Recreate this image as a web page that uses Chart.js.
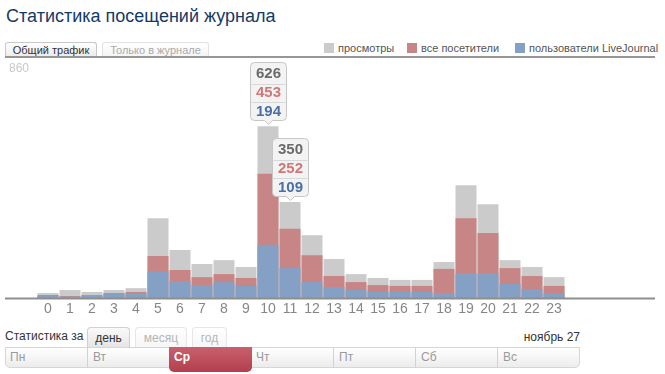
<!DOCTYPE html>
<html>
<head>
<meta charset="utf-8">
<script src="https://cdn.jsdelivr.net/npm/chart.js@4"></script>
<style>
  html, body { margin: 0; padding: 0; background: #fff; }
  body { width: 665px; height: 374px; position: relative; overflow: hidden; font-family: Arial, "Liberation Sans", sans-serif; }
  .abs { position: absolute; white-space: nowrap; }
  #title { left: 6px; top: 6px; font-size: 18px; line-height: 20px; color: #143a66; }
  .tab { position: absolute; box-sizing: border-box; text-align: center; font-size: 11px; border-radius: 3px 3px 0 0; }
  #tab1 { left: 5px; top: 42px; width: 92px; height: 15px; line-height: 14px; border: 1px solid #c8c8c8; border-bottom: none; background: linear-gradient(#ffffff, #ebebeb); color: #333; }
  #tab2 { left: 102px; top: 42px; width: 107px; height: 15px; line-height: 14px; border: 1px solid #e2e2e2; border-bottom: none; background: linear-gradient(#ffffff, #f4f4f4); color: #aaa; }
  #hline { left: 5px; top: 56px; width: 650px; height: 2px; background: #969696; }
  .lg-sq { position: absolute; width: 10px; height: 10px; top: 43px; }
  .lg-tx { position: absolute; top: 41px; font-size: 11px; line-height: 14px; color: #555; white-space: nowrap; }
  #statfor { left: 5px; top: 329px; font-size: 12px; line-height: 14px; color: #333; }
  #date { right: 85px; top: 330px; font-size: 12px; line-height: 14px; color: #333; }
  .ptab { position: absolute; top: 327px; height: 21px; box-sizing: border-box; text-align: center; font-size: 12px; line-height: 20px; border-radius: 4px 4px 0 0; }
  #dayrow { position: absolute; left: 5px; top: 347px; width: 575px; height: 21px; box-sizing: border-box; border: 1px solid #d6d6d6; border-radius: 0 0 5px 5px; background: linear-gradient(#ffffff, #ececec); }
  .cell { position: absolute; top: 347px; height: 21px; box-sizing: border-box; font-size: 12px; line-height: 21px; color: #9a9a9a; padding-left: 5px; }
  .cell.div { border-left: 1px solid #d2d2d2; }
  .cell.sel { top: 347px; height: 25px; color: #fff; font-weight: bold; background: linear-gradient(#c9606d, #b23f4d); border-radius: 0 0 5px 5px; line-height: 21px; border-left: none; }
  canvas { position: absolute; left: 0; top: 0; }
</style>
</head>
<body>
<div id="title" class="abs">Статистика посещений журнала</div>
<div id="tab1" class="tab">Общий трафик</div>
<div id="tab2" class="tab">Только в журнале</div>
<div id="hline" class="abs"></div>
<div id="legend"></div>
<div id="statfor" class="abs">Статистика за</div>
<div id="periods"></div>
<div id="date" class="abs">ноябрь 27</div>
<div id="dayrow"></div>
<div id="days"></div>
<canvas id="c" width="665" height="374"></canvas>
<script>
// ---- data ----
const hours = ['0','1','2','3','4','5','6','7','8','9','10','11','12','13','14','15','16','17','18','19','20','21','22','23'];
const views    = [18, 29, 22, 29, 36, 291, 175, 124, 138, 113, 626, 350, 229, 142, 87, 73, 66, 66, 131, 411, 342, 138, 113, 76];
const visitors = [11,  7, 10, 18, 22, 153, 102,  76,  87,  73, 453, 252, 156,  80, 58, 47, 44, 44, 106, 291, 237, 109,  80, 44];
const users    = [ 8,  5, 10, 16, 16,  98,  62,  47,  58,  44, 194, 109,  58,  40, 29, 22, 25, 22,  17,  90,  90,  51,  33, 17];
const seriesNames = ['просмотры', 'все посетители', 'пользователи LiveJournal'];
const yMax = 860;
const calloutHours = [10, 11];
const periods = ['день', 'месяц', 'год'];
const weekdays = ['Пн', 'Вт', 'Ср', 'Чт', 'Пт', 'Сб', 'Вс'];
const selectedDay = 2;

// ---- styles ----
const barColors = ['#cbcbcb', '#c88585', '#84a0c4'];
const textColors = ['#6a6a6a', '#d07878', '#4a6fa6'];

// legend (HTML)
const legendPos = [324, 407, 515];
const legend = document.getElementById('legend');
seriesNames.forEach((n, i) => {
  const sq = document.createElement('div');
  sq.className = 'lg-sq'; sq.style.left = legendPos[i] + 'px'; sq.style.background = barColors[i];
  const tx = document.createElement('div');
  tx.className = 'lg-tx'; tx.style.left = (legendPos[i] + 14) + 'px'; tx.textContent = n;
  legend.appendChild(sq); legend.appendChild(tx);
});

// period tabs
const ptabPos = [[87, 43], [135, 52], [192, 35]];
const pdiv = document.getElementById('periods');
periods.forEach((p, i) => {
  const t = document.createElement('div');
  t.className = 'ptab';
  t.style.left = ptabPos[i][0] + 'px'; t.style.width = ptabPos[i][1] + 'px';
  if (i === 0) { t.style.border = '1px solid #d0d0d0'; t.style.borderBottom = 'none'; t.style.background = 'linear-gradient(#fafafa,#e4e4e4)'; t.style.color = '#333'; }
  else { t.style.border = '1px solid #e6e6e6'; t.style.borderBottom = 'none'; t.style.background = 'linear-gradient(#ffffff,#f6f6f6)'; t.style.color = '#b5b5b5'; }
  t.textContent = p;
  pdiv.appendChild(t);
});

// day cells
const ddiv = document.getElementById('days');
weekdays.forEach((d, i) => {
  const c = document.createElement('div');
  c.className = 'cell' + (i === selectedDay ? ' sel' : (i > 0 && i !== selectedDay + 1 ? ' div' : ''));
  c.style.left = (5 + 82 * i) + 'px';
  c.style.width = (i === 6 ? 575 - 82 * 6 : (i === selectedDay ? 83 : 82)) + 'px';
  if (i === selectedDay + 1) c.style.borderLeft = 'none';
  c.textContent = d;
  ddiv.appendChild(c);
});

// ---- callouts / baseline plugin ----
const decor = {
  id: 'decor',
  afterDatasetsDraw(chart) {
    const ctx = chart.ctx;
    const xs = chart.scales.x, ys = chart.scales.y;
    const y0 = ys.getPixelForValue(0);
    ctx.save();
    ctx.fillStyle = '#8e8e8e';
    ctx.fillRect(5, y0 - 0.5, 650, 2);
    ctx.fillStyle = '#c8c8c8';
    ctx.font = '12px Arial, "Liberation Sans"';
    ctx.textBaseline = 'middle';
    ctx.textAlign = 'left';
    ctx.fillText(String(ys.max), 9, 69);

    calloutHours.forEach(idx => {
      const cx = Math.round(xs.getPixelForValue(idx)) + 0.5;
      const top = ys.getPixelForValue(views[idx]);
      const bottom = Math.round(top - 6) + 0.5;
      const h = 58, w = 36, r = 4;
      const t = bottom - h, l = cx - w / 2, rt = cx + w / 2;
      ctx.beginPath();
      ctx.moveTo(l + r, t);
      ctx.lineTo(rt - r, t);
      ctx.quadraticCurveTo(rt, t, rt, t + r);
      ctx.lineTo(rt, bottom - r);
      ctx.quadraticCurveTo(rt, bottom, rt - r, bottom);
      ctx.lineTo(cx + 4, bottom);
      ctx.lineTo(cx, bottom + 4);
      ctx.lineTo(cx - 4, bottom);
      ctx.lineTo(l + r, bottom);
      ctx.quadraticCurveTo(l, bottom, l, bottom - r);
      ctx.lineTo(l, t + r);
      ctx.quadraticCurveTo(l, t, l + r, t);
      ctx.closePath();
      ctx.fillStyle = '#f3f3f3';
      ctx.fill();
      ctx.strokeStyle = '#c6c6c6';
      ctx.lineWidth = 1;
      ctx.stroke();
      ctx.strokeStyle = '#d8d8d8';
      [21, 39].forEach(dy => {
        ctx.beginPath();
        ctx.moveTo(l + 1, Math.round(t + dy) + 0.5);
        ctx.lineTo(rt - 1, Math.round(t + dy) + 0.5);
        ctx.stroke();
      });
      const vals = [views[idx], visitors[idx], users[idx]];
      const cys = [t + 11.5, t + 30.5, t + 49];
      ctx.font = 'bold 15px "Liberation Sans Narrow", "Arial Narrow", Arial';
      ctx.textAlign = 'center';
      vals.forEach((v, k) => {
        ctx.fillStyle = textColors[k];
        ctx.fillText(String(v), cx, cys[k]);
      });
    });
    ctx.restore();
  }
};

new Chart(document.getElementById('c'), {
  type: 'bar',
  data: {
    labels: hours,
    datasets: [
      { label: seriesNames[2], data: users, backgroundColor: barColors[2], order: 0 },
      { label: seriesNames[1], data: visitors, backgroundColor: barColors[1], order: 1 },
      { label: seriesNames[0], data: views, backgroundColor: barColors[0], order: 2 }
    ]
  },
  options: {
    responsive: false,
    animation: false,
    devicePixelRatio: 1,
    layout: { padding: { left: 37, right: 100, top: 62, bottom: 52 } },
    datasets: { bar: { grouped: false, categoryPercentage: 1, barPercentage: 21 / 22, borderWidth: 0 } },
    plugins: { legend: { display: false }, tooltip: { enabled: false } },
    scales: {
      x: {
        grid: { display: false, drawTicks: false },
        border: { display: false },
        ticks: { color: '#868686', padding: 3, maxRotation: 0, autoSkip: false,
                 font: { family: '"Liberation Sans Narrow", "Arial Narrow", Arial', size: 14 } },
        afterFit: s => { s.height = 24; }
      },
      y: { display: false, min: 0, max: yMax }
    }
  },
  plugins: [decor]
});
</script>
</body>
</html>
